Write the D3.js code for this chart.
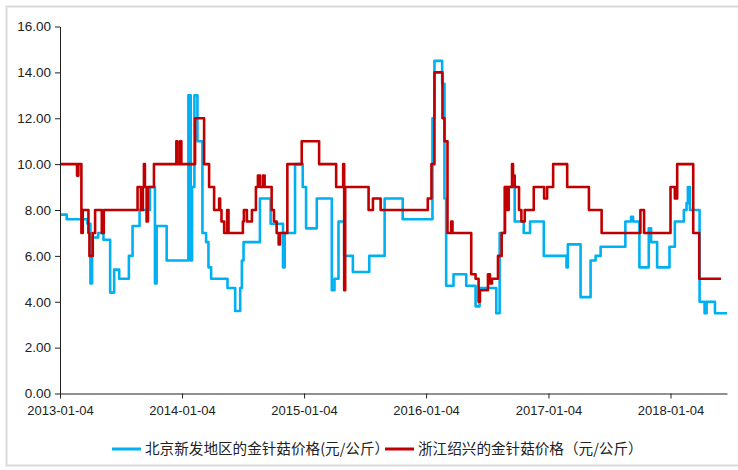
<!DOCTYPE html>
<html>
<head>
<meta charset="utf-8">
<script src="https://cdn.jsdelivr.net/npm/d3@7"></script>
<style>
  html, body { margin: 0; padding: 0; background: #fff; }
  svg { display: block; }
</style>
</head>
<body>
<svg id="chart" width="738" height="470"></svg>
<script>
// ---- data ----
const seriesNames = ["北京新发地区的金针菇价格(元/公斤）", "浙江绍兴的金针菇价格（元/公斤）"];
const xTickLabels = ["2013-01-04", "2014-01-04", "2015-01-04", "2016-01-04", "2017-01-04", "2018-01-04"];
const yTicks = [0, 2, 4, 6, 8, 10, 12, 14, 16];
const xStart = "2013-01-04";
const xEnd = "2018-06-22";

// Beijing Xinfadi (change points: date, price)
const blueDates = [
  "2013-01-04","2013-01-24","2013-03-27","2013-04-05","2013-04-10","2013-04-28","2013-05-14","2013-06-03",
  "2013-06-15","2013-06-30","2013-07-29","2013-08-09","2013-08-30","2013-09-30","2013-10-15","2013-10-20",
  "2013-11-19","2014-01-23","2014-01-30","2014-02-03","2014-02-10","2014-02-19","2014-03-06","2014-03-17",
  "2014-03-24","2014-04-01","2014-05-20","2014-06-12","2014-06-27","2014-07-02","2014-07-07","2014-08-25",
  "2014-09-26","2014-11-02","2014-11-07","2014-12-08","2014-12-31","2015-01-10","2015-02-11","2015-03-28",
  "2015-04-05","2015-04-17","2015-05-04","2015-05-30","2015-07-18","2015-09-02","2015-10-26","2016-01-23",
  "2016-01-29","2016-02-21","2016-02-28","2016-03-04","2016-03-26","2016-05-03","2016-05-31","2016-06-12",
  "2016-08-01","2016-08-11","2016-08-26","2016-09-25","2016-10-22","2016-11-10","2016-12-21","2017-02-27",
  "2017-03-03","2017-04-10","2017-05-10","2017-05-25","2017-06-09","2017-08-22","2017-09-08","2017-09-14",
  "2017-10-03","2017-10-31","2017-11-07","2017-11-25","2018-01-01","2018-01-17","2018-02-13","2018-02-21",
  "2018-02-25","2018-03-03","2018-04-01","2018-04-16","2018-04-22","2018-05-17","2018-06-22"
];
const blueValues = [
  7.8, 7.6, 7.4, 4.8, 6.8, 7.0, 6.7, 4.4,
  5.4, 5.0, 6.0, 7.3, 8.0, 9.0, 4.8, 7.3,
  5.8, 13.0, 5.8, 9.0, 13.0, 11.0, 7.0, 6.6,
  5.5, 5.0, 4.6, 3.6, 4.6, 5.8, 6.6, 8.5,
  7.4, 5.5, 7.0, 10.0, 9.0, 7.2, 8.5, 4.5,
  5.0, 7.5, 6.0, 5.3, 6.0, 8.5, 7.6, 12.0,
  14.5, 13.5, 8.5, 4.7, 5.2, 4.7, 3.8, 4.6,
  3.5, 7.0, 9.0, 7.5, 7.0, 7.5, 6.0, 5.5,
  6.5, 4.2, 5.8, 6.0, 6.4, 7.5, 7.7, 7.5,
  5.5, 7.2, 6.6, 5.5, 6.4, 7.5, 8.0, 8.3,
  9.0, 8.0, 4.0, 3.5, 4.0, 3.5, 3.5
];

// Zhejiang Shaoxing (change points: date, price)
const redDates = [
  "2013-01-04","2013-02-24","2013-02-28","2013-03-09","2013-03-13","2013-03-30","2013-04-02","2013-04-12",
  "2013-04-19","2013-05-09","2013-05-15","2013-08-24","2013-09-03","2013-09-09","2013-09-12","2013-09-15",
  "2013-09-20","2013-09-24","2013-10-12","2013-12-18","2013-12-21","2013-12-29","2014-01-02","2014-02-12",
  "2014-03-11","2014-03-26","2014-04-10","2014-04-25","2014-04-28","2014-05-02","2014-05-10","2014-05-19",
  "2014-05-23","2014-07-05","2014-07-08","2014-07-17","2014-08-01","2014-08-13","2014-08-19","2014-08-25",
  "2014-09-03","2014-09-08","2014-09-29","2014-10-06","2014-10-14","2014-10-20","2014-10-24","2014-11-15",
  "2014-12-28","2015-02-18","2015-04-10","2015-05-01","2015-05-04","2015-05-07","2015-07-16","2015-07-29",
  "2015-08-21","2016-01-09","2016-01-20","2016-01-29","2016-02-22","2016-02-28","2016-03-08","2016-03-19",
  "2016-03-23","2016-05-18","2016-05-31","2016-06-09","2016-06-13","2016-07-07","2016-07-13","2016-07-19",
  "2016-08-06","2016-08-17","2016-08-27","2016-09-02","2016-09-07","2016-09-17","2016-09-20","2016-09-25",
  "2016-10-08","2016-10-15","2016-10-25","2016-11-21","2016-12-22","2016-12-31","2017-01-18","2017-03-01",
  "2017-05-05","2017-06-12","2017-10-06","2017-10-17","2018-01-04","2018-01-17","2018-01-24","2018-03-13",
  "2018-03-31","2018-06-04"
];
const redValues = [
  10, 9.5, 10, 7, 8, 7, 6, 7,
  8, 7, 8, 9, 8, 9, 10, 9,
  7.5, 9, 10, 11, 10, 11, 10, 12,
  10, 9, 8, 8.5, 8, 7.5, 7, 8,
  7, 7.5, 8, 7.5, 8, 9, 9.5, 9,
  9.5, 9, 8, 7.5, 7, 6.5, 7, 10,
  11, 10, 9, 10, 4.5, 9, 8, 8.5,
  8, 8.5, 10, 14, 12, 11, 7, 7.5,
  7, 5.2, 5.0, 4.0, 4.5, 5.2, 4.8, 5.0,
  6.0, 7.0, 9.0, 8.0, 9.0, 10, 9.5, 9,
  8, 7.5, 8, 9, 8.5, 9, 10, 9,
  8, 7, 8, 7, 9, 8.5, 10, 7,
  5, 5
];

// ---- drawing ----
const parse = d3.timeParse("%Y-%m-%d");
const fmt = d3.timeFormat("%Y-%m-%d");
const svg = d3.select("#chart");

// outer frame
svg.append("rect")
  .attr("x", 6.5).attr("y", 6.5).attr("width", 740).attr("height", 459)
  .attr("fill", "#fff").attr("stroke", "#d9d9d9").attr("stroke-width", 2);

const x = d3.scaleTime().domain([parse(xStart), parse(xEnd)]).range([60, 727]);
const y = d3.scaleLinear().domain([0, 16]).range([393.5, 26.5]);

const blue = blueDates.map((d, i) => ({ date: parse(d), value: blueValues[i] }));
const red = redDates.map((d, i) => ({ date: parse(d), value: redValues[i] }));

const line = d3.line()
  .x(d => x(d.date))
  .y(d => y(d.value))
  .curve(d3.curveStepAfter);

svg.append("path").datum(blue)
  .attr("fill", "none").attr("stroke", "#00B0F0")
  .attr("stroke-width", 2.6).attr("stroke-linejoin", "round")
  .attr("d", line);
svg.append("path").datum(red)
  .attr("fill", "none").attr("stroke", "#C00000")
  .attr("stroke-width", 2.6).attr("stroke-linejoin", "round")
  .attr("d", line);

// y axis
const yAxis = svg.append("g")
  .attr("transform", "translate(60,0)")
  .call(d3.axisLeft(y).tickValues(yTicks).tickFormat(d3.format(".2f")).tickSize(5).tickSizeOuter(0));
yAxis.select(".domain").attr("stroke", "#222");
yAxis.selectAll(".tick line").attr("stroke", "#222");
yAxis.selectAll("text")
  .attr("font-family", "'Liberation Sans', Arial, sans-serif")
  .attr("font-size", 13.5).attr("fill", "#222").attr("x", -9);

// x axis
const xAxis = svg.append("g")
  .attr("transform", "translate(0,393.5)")
  .call(d3.axisBottom(x).tickValues(xTickLabels.map(parse)).tickFormat(fmt).tickSize(5).tickSizeOuter(0));
xAxis.select(".domain").attr("stroke", "#222");
xAxis.selectAll(".tick line").attr("stroke", "#222");
xAxis.selectAll("text")
  .attr("font-family", "'Liberation Sans', Arial, sans-serif")
  .attr("font-size", 13).attr("fill", "#222").attr("y", 12);

// legend
const legend = svg.append("g").attr("font-family", "'Noto Sans CJK SC', sans-serif").attr("font-size", 14.6).attr("fill", "#222");
const legendItems = [
  { name: seriesNames[0], color: "#00B0F0", x: 112 },
  { name: seriesNames[1], color: "#C00000", x: 385 }
];
legendItems.forEach(it => {
  legend.append("line")
    .attr("x1", it.x).attr("x2", it.x + 29)
    .attr("y1", 449).attr("y2", 449)
    .attr("stroke", it.color).attr("stroke-width", 3);
  legend.append("text")
    .attr("x", it.x + 33).attr("y", 449).attr("dy", "0.35em")
    .text(it.name);
});
</script>
</body>
</html>
